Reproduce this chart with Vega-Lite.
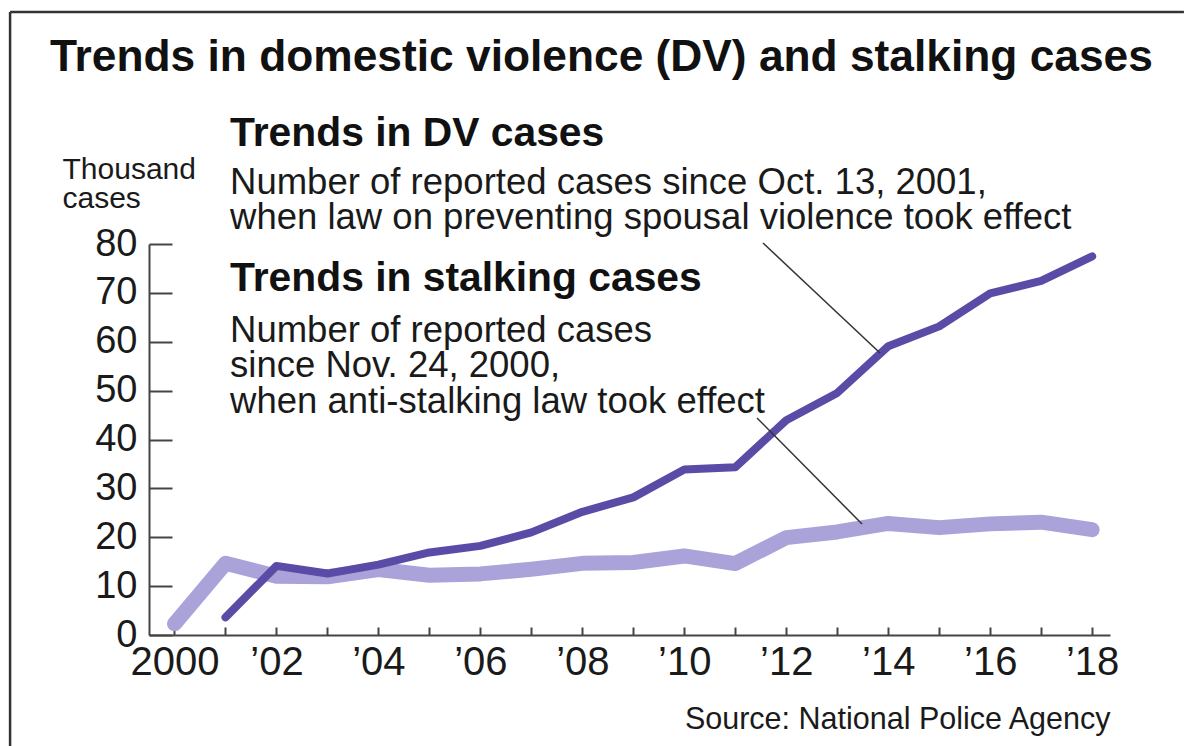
{
  "$schema": "https://vega.github.io/schema/vega-lite/v6.json",
  "width": 961,
  "height": 391,
  "autosize": {"type": "none"},
  "padding": {"left": 149, "top": 244, "right": 74, "bottom": 111},
  "background": "white",
  "config": {"view": {"stroke": null}, "font": "Liberation Sans"},
  "title": {
    "text": "Trends in domestic violence (DV) and stalking cases",
    "anchor": "start",
    "frame": "group",
    "font": "Liberation Sans",
    "fontSize": 44.3,
    "fontWeight": "bold",
    "color": "#111111",
    "baseline": "alphabetic",
    "offset": 0,
    "dx": -99,
    "dy": 105
  },
  "data": {
    "values": [
      {"year": 2000, "series": "Stalking", "cases": 2.28},
      {"year": 2001, "series": "Stalking", "cases": 14.662},
      {"year": 2002, "series": "Stalking", "cases": 12.024},
      {"year": 2003, "series": "Stalking", "cases": 11.923},
      {"year": 2004, "series": "Stalking", "cases": 13.403},
      {"year": 2005, "series": "Stalking", "cases": 12.22},
      {"year": 2006, "series": "Stalking", "cases": 12.501},
      {"year": 2007, "series": "Stalking", "cases": 13.463},
      {"year": 2008, "series": "Stalking", "cases": 14.657},
      {"year": 2009, "series": "Stalking", "cases": 14.823},
      {"year": 2010, "series": "Stalking", "cases": 16.176},
      {"year": 2011, "series": "Stalking", "cases": 14.618},
      {"year": 2012, "series": "Stalking", "cases": 19.92},
      {"year": 2013, "series": "Stalking", "cases": 21.089},
      {"year": 2014, "series": "Stalking", "cases": 22.823},
      {"year": 2015, "series": "Stalking", "cases": 21.968},
      {"year": 2016, "series": "Stalking", "cases": 22.737},
      {"year": 2017, "series": "Stalking", "cases": 23.079},
      {"year": 2018, "series": "Stalking", "cases": 21.556},
      {"year": 2001, "series": "DV", "cases": 3.608},
      {"year": 2002, "series": "DV", "cases": 14.14},
      {"year": 2003, "series": "DV", "cases": 12.568},
      {"year": 2004, "series": "DV", "cases": 14.41},
      {"year": 2005, "series": "DV", "cases": 16.888},
      {"year": 2006, "series": "DV", "cases": 18.236},
      {"year": 2007, "series": "DV", "cases": 20.992},
      {"year": 2008, "series": "DV", "cases": 25.21},
      {"year": 2009, "series": "DV", "cases": 28.158},
      {"year": 2010, "series": "DV", "cases": 33.852},
      {"year": 2011, "series": "DV", "cases": 34.329},
      {"year": 2012, "series": "DV", "cases": 43.95},
      {"year": 2013, "series": "DV", "cases": 49.533},
      {"year": 2014, "series": "DV", "cases": 59.072},
      {"year": 2015, "series": "DV", "cases": 63.141},
      {"year": 2016, "series": "DV", "cases": 69.908},
      {"year": 2017, "series": "DV", "cases": 72.455},
      {"year": 2018, "series": "DV", "cases": 77.482}
    ]
  },
  "layer": [
    {
      "transform": [{"filter": "datum.series == 'Stalking'"}],
      "mark": {"type": "line", "color": "#aaa3d9", "strokeWidth": 15, "strokeCap": "round", "strokeJoin": "round"},
      "encoding": {
        "x": {
          "field": "year",
          "type": "quantitative",
          "scale": {"domain": [1999.5, 2018.35], "nice": false, "zero": false},
          "axis": {
            "values": [2000, 2001, 2002, 2003, 2004, 2005, 2006, 2007, 2008, 2009, 2010, 2011, 2012, 2013, 2014, 2015, 2016, 2017, 2018],
            "labelExpr": "datum.value == 2000 ? '2000' : (datum.value % 2 == 0 ? '\u2019' + (datum.value < 2010 ? '0' : '') + (datum.value - 2000) : '')",
            "labelOverlap": false,
            "labelFlush": false,
            "labelBound": false,
            "labelFont": "Liberation Sans",
            "labelFontSize": 40,
            "labelColor": "#1a1a1a",
            "labelPadding": 15,
            "tickSize": -8,
            "tickWidth": 2,
            "tickColor": "#444444",
            "domainColor": "#444444",
            "domainWidth": 2,
            "grid": false,
            "title": "Source: National Police Agency",
            "titleFont": "Liberation Sans",
            "titleFontSize": 30.5,
            "titleFontWeight": "normal",
            "titleColor": "#1a1a1a",
            "titleX": 961,
            "titleY": 93,
            "titleAlign": "right",
            "titleBaseline": "alphabetic"
          }
        },
        "y": {
          "field": "cases",
          "type": "quantitative",
          "scale": {"domain": [0, 80], "nice": false},
          "axis": {
            "values": [0, 10, 20, 30, 40, 50, 60, 70, 80],
            "labelFont": "Liberation Sans",
            "labelFontSize": 38,
            "labelColor": "#1a1a1a",
            "labelPadding": 35,
            "tickSize": -23,
            "tickWidth": 2,
            "tickColor": "#444444",
            "domainColor": "#444444",
            "domainWidth": 2,
            "grid": false,
            "title": ["Thousand", "cases"],
            "titleFont": "Liberation Sans",
            "titleFontSize": 30,
            "titleFontWeight": "normal",
            "titleColor": "#1a1a1a",
            "titleAngle": 0,
            "titleAlign": "left",
            "titleBaseline": "alphabetic",
            "titleLineHeight": 29,
            "titleX": -87,
            "titleY": -66
          }
        }
      }
    },
    {
      "transform": [{"filter": "datum.series == 'DV'"}],
      "mark": {"type": "line", "color": "#5a4ca6", "strokeWidth": 8, "strokeCap": "round", "strokeJoin": "round"},
      "encoding": {
        "x": {"field": "year", "type": "quantitative"},
        "y": {"field": "cases", "type": "quantitative"}
      }
    },
    {
      "data": {"values": [{}]},
      "mark": {"type": "rule", "color": "#333333", "strokeWidth": 1.5},
      "encoding": {
        "x": {"datum": 2011.544},
        "y": {"datum": 80.2},
        "x2": {"datum": 2013.839},
        "y2": {"datum": 57.7}
      }
    },
    {
      "data": {"values": [{}]},
      "mark": {"type": "rule", "color": "#333333", "strokeWidth": 1.5},
      "encoding": {
        "x": {"datum": 2011.426},
        "y": {"datum": 44.4},
        "x2": {"datum": 2013.486},
        "y2": {"datum": 22.71}
      }
    },
    {
      "data": {"values": [{}]},
      "mark": {"type": "text", "text": "Trends in DV cases", "align": "left", "baseline": "alphabetic", "font": "Liberation Sans", "fontSize": 40.8, "fontWeight": "bold", "color": "#111111"},
      "encoding": {"x": {"datum": 2001.09}, "y": {"datum": 100.06}}
    },
    {
      "data": {"values": [{}]},
      "mark": {"type": "text", "text": ["Number of reported cases since Oct. 13, 2001,", "when law on preventing spousal violence took effect"], "lineHeight": 35, "align": "left", "baseline": "alphabetic", "font": "Liberation Sans", "fontSize": 36.5, "color": "#1a1a1a"},
      "encoding": {"x": {"datum": 2001.09}, "y": {"datum": 90.23}}
    },
    {
      "data": {"values": [{}]},
      "mark": {"type": "text", "text": "Trends in stalking cases", "align": "left", "baseline": "alphabetic", "font": "Liberation Sans", "fontSize": 40.8, "fontWeight": "bold", "color": "#111111"},
      "encoding": {"x": {"datum": 2001.09}, "y": {"datum": 70.38}}
    },
    {
      "data": {"values": [{}]},
      "mark": {"type": "text", "text": ["Number of reported cases", "since Nov. 24, 2000,", "when anti-stalking law took effect"], "lineHeight": 35.5, "align": "left", "baseline": "alphabetic", "font": "Liberation Sans", "fontSize": 36.5, "color": "#1a1a1a"},
      "encoding": {"x": {"datum": 2001.09}, "y": {"datum": 59.95}}
    },
    {
      "data": {"values": [{}]},
      "mark": {"type": "rule", "color": "#333333", "strokeWidth": 2.5},
      "encoding": {"x": {"datum": 1996.775}, "x2": {"datum": 2019.8}, "y": {"datum": 127.47}}
    },
    {
      "data": {"values": [{}]},
      "mark": {"type": "rule", "color": "#333333", "strokeWidth": 2.5},
      "encoding": {"x": {"datum": 1996.775}, "y": {"datum": 127.47}, "y2": {"datum": -22.71}}
    }
  ]
}
